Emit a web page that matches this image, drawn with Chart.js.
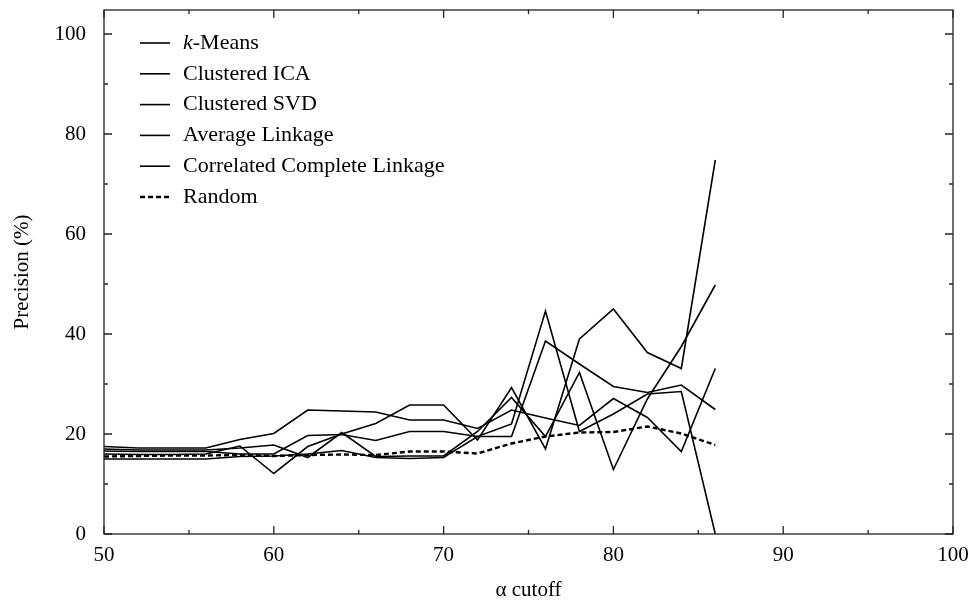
<!DOCTYPE html>
<html>
<head>
<meta charset="utf-8">
<script src="https://cdn.jsdelivr.net/npm/chart.js@4.4.0/dist/chart.umd.min.js"></script>
<style>
  html, body { margin: 0; padding: 0; background: #fff; }
  #wrap { width: 973px; height: 603px; }
</style>
</head>
<body>
<div id="wrap"><canvas id="myChart"></canvas></div>
<script>
// values, one point every 2 on the cutoff axis
const cutoffs = [50, 52, 54, 56, 58, 60, 62, 64, 66, 68, 70, 72, 74, 76, 78, 80, 82, 84, 86];

const kMeans         = [16.0, 15.9, 15.9, 16.0, 17.6, 12.1, 17.5, 20.0, 22.1, 25.8, 25.8, 18.8, 29.3, 17.0, 39.0, 45.0, 36.3, 33.1, 74.8];
const clusteredICA   = [17.5, 17.2, 17.2, 17.2, 18.9, 20.1, 24.8, 24.6, 24.4, 22.8, 22.8, 21.1, 24.8, 23.2, 21.7, 27.1, 23.3, 16.5, 33.1];
const clusteredSVD   = [17.0, 16.8, 16.8, 16.8, 17.2, 17.8, 15.3, 20.3, 15.5, 15.6, 15.6, 20.5, 27.3, 19.5, 32.3, 12.9, 27.0, 37.5, 49.8];
const averageLinkage = [16.6, 16.5, 16.5, 16.5, 16.0, 16.0, 19.7, 19.9, 18.7, 20.5, 20.5, 19.5, 22.0, 44.6, 20.5, 24.0, 28.0, 28.5, 0.0];
const correlatedCL   = [15.0, 15.0, 15.0, 15.0, 15.5, 15.6, 16.0, 16.7, 15.3, 15.1, 15.3, 19.5, 19.5, 38.6, 34.0, 29.5, 28.3, 29.8, 24.9];
const randomBase     = [15.5, 15.6, 15.7, 15.7, 15.8, 15.6, 15.8, 15.9, 15.8, 16.5, 16.5, 16.1, 18.1, 19.5, 20.3, 20.4, 21.5, 20.1, 17.8];

const xTicks = [50, 60, 70, 80, 90, 100];
const yTicks = [0, 20, 40, 60, 80, 100];

const FONT = "'Liberation Serif', 'DejaVu Serif', serif";

function pts(arr) {
  return arr.map((v, i) => ({ x: cutoffs[i], y: v }));
}

function lineSet(label, arr, dash) {
  return {
    label: label,
    data: pts(arr),
    borderColor: '#000',
    backgroundColor: '#000',
    borderWidth: dash ? 2.4 : 1.6,
    borderDash: dash || [],
    pointRadius: 0,
    tension: 0,
    fill: false
  };
}

// box round the plot + inward ticks on all 4 sides
const boxPlugin = {
  id: 'box',
  afterDatasetsDraw(chart) {
    const ctx = chart.ctx;
    const a = chart.chartArea;
    const xs = chart.scales.x, ys = chart.scales.y;
    ctx.save();
    ctx.strokeStyle = '#222';
    ctx.lineWidth = 1.3;
    ctx.strokeRect(a.left, a.top, a.right - a.left, a.bottom - a.top);
    ctx.beginPath();
    for (let v = 50; v <= 100; v += 5) {
      const px = xs.getPixelForValue(v);
      const len = v % 10 === 0 ? 8 : 4;
      ctx.moveTo(px, a.bottom); ctx.lineTo(px, a.bottom - len);
      ctx.moveTo(px, a.top); ctx.lineTo(px, a.top + len);
    }
    for (let v = 0; v <= 100; v += 10) {
      const py = ys.getPixelForValue(v);
      const len = v % 20 === 0 ? 8 : 4;
      ctx.moveTo(a.left, py); ctx.lineTo(a.left + len, py);
      ctx.moveTo(a.right, py); ctx.lineTo(a.right - len, py);
    }
    ctx.stroke();
    ctx.restore();
  }
};

// legend inside the plot, top left
const legendPlugin = {
  id: 'innerLegend',
  afterDraw(chart) {
    const ctx = chart.ctx;
    const x0 = 140, x1 = 170, tx = 183;
    let y = 43;
    ctx.save();
    ctx.textBaseline = 'middle';
    ctx.fillStyle = '#000';
    chart.data.datasets.forEach(ds => {
      ctx.beginPath();
      ctx.strokeStyle = '#000';
      ctx.lineWidth = ds.borderWidth;
      ctx.setLineDash(ds.borderDash);
      ctx.moveTo(x0, y); ctx.lineTo(x1, y);
      ctx.stroke();
      ctx.setLineDash([]);
      let lx = tx;
      let label = ds.label;
      if (label.startsWith('k-')) {
        ctx.font = 'italic 22px ' + FONT;
        ctx.fillText('k', lx, y);
        lx += ctx.measureText('k').width;
        label = label.slice(1);
      }
      ctx.font = '22px ' + FONT;
      ctx.fillText(label, lx, y);
      y += 30.8;
    });
    ctx.restore();
  }
};

const config = {
  type: 'line',
  data: {
    datasets: [
      lineSet('k-Means', kMeans),
      lineSet('Clustered ICA', clusteredICA),
      lineSet('Clustered SVD', clusteredSVD),
      lineSet('Average Linkage', averageLinkage),
      lineSet('Correlated Complete Linkage', correlatedCL),
      lineSet('Random', randomBase, [5, 3])
    ]
  },
  options: {
    responsive: true,
    maintainAspectRatio: false,
    animation: false,
    layout: { padding: { left: 0, top: 10, right: 20, bottom: 0 } },
    plugins: {
      legend: { display: false },
      tooltip: { enabled: false }
    },
    scales: {
      x: {
        type: 'linear',
        min: 50,
        max: 100,
        afterBuildTicks: s => { s.ticks = xTicks.map(v => ({ value: v })); },
        afterFit: s => { s.height = 69; s.paddingLeft = 0; s.paddingRight = 0; },
        grid: { display: false, drawTicks: false },
        border: { display: false },
        ticks: { color: '#000', font: { family: FONT, size: 21 }, padding: 9, maxRotation: 0 },
        title: { display: true, text: 'α cutoff', color: '#000', font: { family: FONT, size: 21 }, padding: { top: 4, bottom: 0 } }
      },
      y: {
        min: 0,
        max: 104.8,
        afterBuildTicks: s => { s.ticks = yTicks.map(v => ({ value: v })); },
        afterFit: s => { s.width = 104; s.paddingTop = 0; s.paddingBottom = 0; },
        grid: { display: false, drawTicks: false },
        border: { display: false },
        ticks: { color: '#000', font: { family: FONT, size: 21 }, padding: 18 },
        title: { display: true, text: 'Precision (%)', color: '#000', font: { family: FONT, size: 21 }, padding: { top: 10, bottom: 6 } }
      }
    }
  },
  plugins: [boxPlugin, legendPlugin]
};

const myChart = new Chart(document.getElementById('myChart'), config);
</script>
</body>
</html>
